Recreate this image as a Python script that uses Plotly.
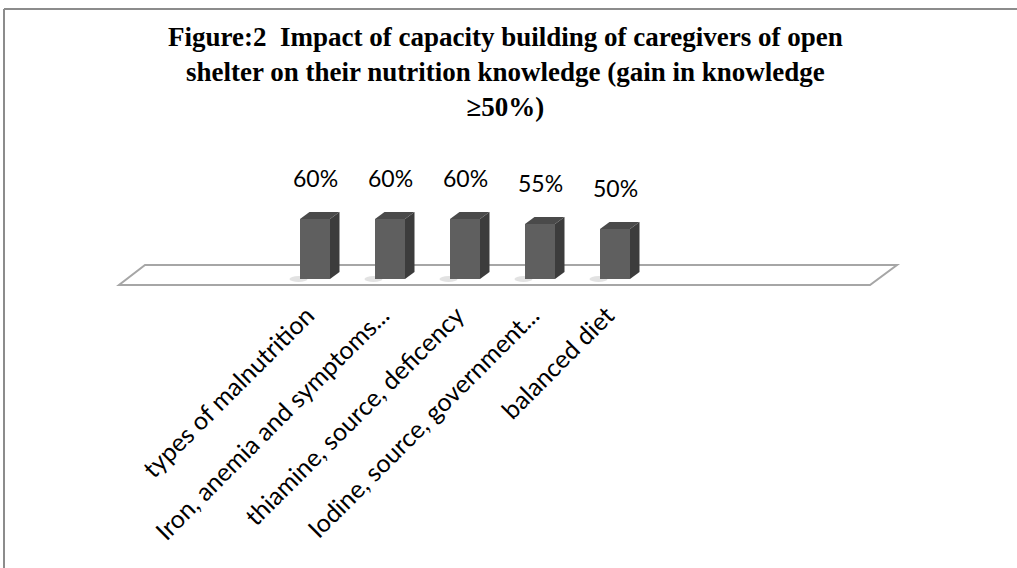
import plotly.graph_objects as go

categories = ["types of malnutrition", "Iron, anemia and symptoms...",
              "thiamine, source, deficency", "Iodine, source, government...",
              "balanced diet"]
values = [60, 60, 60, 55, 50]
value_labels = ["60%", "60%", "60%", "55%", "50%"]

title_text = ("<b>Figure:2\u00a0 Impact of capacity building of caregivers of open<br>"
              "shelter on their nutrition knowledge (gain in knowledge<br>"
              "\u226550%)</b>")

W, H = 1017, 568
PX = 75.0            # pixels per category
X0 = -315.0 / PX     # x-range start so first category sits at 315 px
XR = [X0, X0 + W / PX]
YR = [279 - H, 279]  # 1 px per percent, zero at 279 px

def px_x(p):
    return X0 + p / PX

def px_y(p):
    return 279 - p

pos = list(range(len(categories)))
bw = 0.4
dx = 9.5 / PX
dy = 7.0

front = "#5f5f5f"
side = "#3c3c3c"
top = "#4a4a4a"

fig = go.Figure()
fig.add_trace(go.Bar(x=pos, y=values, width=bw, marker=dict(color=front, line=dict(width=0)),
                     hoverinfo="skip", showlegend=False))

shapes = []
# floor parallelogram
shapes.append(dict(type="path", xref="x", yref="y", layer="below",
                   path=f"M {px_x(145)} {px_y(265)} L {px_x(897)} {px_y(265)} L {px_x(870)} {px_y(285)} L {px_x(119)} {px_y(285)} Z",
                   line=dict(color="#a6a6a6", width=2), fillcolor="white"))
for p, v in zip(pos, values):
    l, r = p - bw / 2, p + bw / 2
    # base shadow
    shapes.append(dict(type="circle", xref="x", yref="y", layer="below",
                       x0=l - 0.14, x1=l + 0.1, y0=-3, y1=3,
                       fillcolor="rgba(140,140,140,0.25)", line=dict(width=0)))
    # side face
    shapes.append(dict(type="path", xref="x", yref="y", layer="above",
                       path=f"M {r} 0 L {r+dx} {dy} L {r+dx} {v+dy} L {r} {v} Z",
                       fillcolor=side, line=dict(width=0)))
    # top face
    shapes.append(dict(type="path", xref="x", yref="y", layer="above",
                       path=f"M {l} {v} L {l+dx} {v+dy} L {r+dx} {v+dy} L {r} {v} Z",
                       fillcolor=top, line=dict(width=0)))

# frame lines
shapes.append(dict(type="line", xref="paper", yref="paper", x0=4/W, x1=1, y0=1-9/H, y1=1-9/H,
                   line=dict(color="#8c8c8c", width=2)))
shapes.append(dict(type="line", xref="paper", yref="paper", x0=4/W, x1=4/W, y0=0, y1=1-9/H,
                   line=dict(color="#8c8c8c", width=2)))

annotations = [dict(text=title_text, xref="paper", yref="paper", x=505/W, y=1-20/H,
                    xanchor="center", yanchor="top", showarrow=False,
                    font=dict(family="Liberation Serif", size=27, color="black"))]
for p, v, t in zip(pos, values, value_labels):
    annotations.append(dict(text=t, x=p, y=v, xref="x", yref="y", yshift=25,
                            xanchor="center", yanchor="bottom", showarrow=False,
                            font=dict(family="Lato", size=23, color="black")))

fig.update_layout(
    width=W, height=H, margin=dict(l=0, r=0, t=0, b=0),
    paper_bgcolor="white", plot_bgcolor="white",
    shapes=shapes, annotations=annotations, bargap=0,
    xaxis=dict(range=XR, tickvals=pos, ticktext=categories, tickangle=-45,
               showgrid=False, zeroline=False, showline=False, ticks="",
               anchor="free", position=1 - 295 / H, ticklabelshift=-8,
               tickfont=dict(family="Lato", size=25, color="black")),
    yaxis=dict(range=YR, visible=False, showgrid=False, zeroline=False),
)
fig.write_html("out.html")
